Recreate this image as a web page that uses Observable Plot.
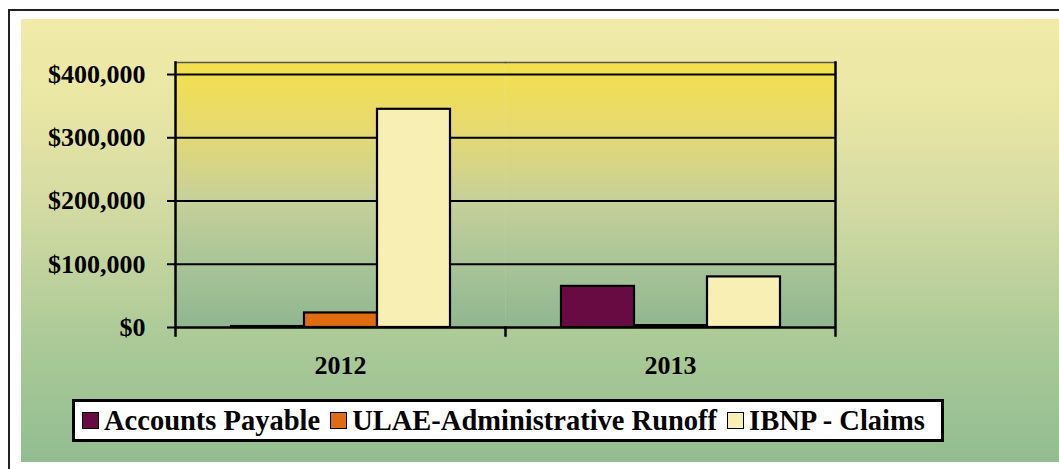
<!DOCTYPE html>
<html>
<head>
<meta charset="utf-8">
<script src="https://cdn.jsdelivr.net/npm/d3@7"></script>
<script src="https://cdn.jsdelivr.net/npm/@observablehq/plot@0.6"></script>
<style>
  html, body { margin: 0; padding: 0; background: #fff; }
  #wrap { position: relative; width: 1059px; height: 469px; overflow: hidden; font-family: "Liberation Serif", serif; }
  #outer { position: absolute; left: 8px; top: 9px; width: 1060px; height: 470px; border-left: 2px solid #222; border-top: 2px solid #222; box-sizing: border-box; }
  #bg { position: absolute; left: 21px; top: 19px; width: 1038px; height: 443px;
        background: linear-gradient(to bottom, #f1eaa8 0%, #e9e6a4 20%, #d0d9a2 45%, #aecb98 70%, #92bd91 100%); }
  #plot { position: absolute; left: 0; top: 0; }
  #legend { position: absolute; left: 72px; top: 399px; width: 872px; height: 43px; box-sizing: border-box;
            border: 3px solid #000; background: #fff; display: flex; align-items: center; padding-left: 7px;
            font-family: "Liberation Serif", serif; font-weight: bold; font-size: 28.5px; color: #000; white-space: nowrap; }
  .item { display: flex; align-items: center; margin-right: 10px; }
  .sw { width: 15px; height: 15px; border: 1.5px solid #000; margin-right: 5px; }
</style>
</head>
<body>
<svg width="0" height="0" style="position:absolute">
  <defs>
    <linearGradient id="plotbg" x1="0" y1="0" x2="0" y2="1">
      <stop offset="0%" stop-color="#f4e04c"/>
      <stop offset="25%" stop-color="#e6da70"/>
      <stop offset="52%" stop-color="#c6d09a"/>
      <stop offset="78%" stop-color="#a7c397"/>
      <stop offset="100%" stop-color="#90b690"/>
    </linearGradient>
  </defs>
</svg>
<div id="wrap">
  <div id="outer"></div>
  <div id="bg"></div>
  <div id="plot"></div>
  <div id="legend"></div>
</div>
<script>
const years = ["2012", "2013"];
const series = ["Accounts Payable", "ULAE-Administrative Runoff", "IBNP - Claims"];
const accountsPayable = [1500, 65000];
const ulaeRunoff = [23000, 3000];
const ibnpClaims = [345000, 80000];
const yTicks = [0, 100000, 200000, 300000, 400000];
const colors = ["#680b42", "#e06c12", "#f7efb4"];

const valuesBySeries = [accountsPayable, ulaeRunoff, ibnpClaims];
const data = [];
years.forEach((yr, i) => series.forEach((s, j) => data.push({year: yr, series: s, value: valuesBySeries[j][i]})));

const fmt = d => "$" + d3.format(",")(d);

const chart = Plot.plot({
  width: 1059,
  height: 390,
  marginLeft: 175,
  marginRight: 224,
  marginTop: 62,
  marginBottom: 63,
  style: {background: "transparent", fontFamily: "Liberation Serif", fontWeight: "bold", fontSize: "26px", color: "#000", overflow: "visible"},
  fx: {domain: years, padding: 0, label: null},
  x: {domain: series, paddingInner: 0, paddingOuter: 0.73, axis: null},
  y: {domain: [0, 419000], label: null},
  color: {domain: series, range: colors},
  marks: [
    Plot.frame({fill: "url(#plotbg)", stroke: null}),
    Plot.ruleY(yTicks.slice(1), {stroke: "#000", strokeWidth: 2}),
    Plot.frame({anchor: "top", stroke: "#555", strokeWidth: 1.5}),
    Plot.barY(data, {fx: "year", x: "series", y: "value", fill: "series", stroke: "#000", strokeWidth: 2.2}),
    Plot.ruleY([0], {stroke: "#000", strokeWidth: 2.5}),
    Plot.frame({anchor: "left", fx: [years[0]], insetBottom: -8, stroke: "#000", strokeWidth: 2.5}),
    Plot.frame({anchor: "right", fx: [years[1]], insetBottom: -8, stroke: "#000", strokeWidth: 2.5}),
    Plot.frame({anchor: "right", fx: [years[0]], insetTop: 265, insetBottom: -8, stroke: "#000", strokeWidth: 2.5}),
    Plot.axisY(yTicks, {tickFormat: fmt, tickSize: 8, tickPadding: 22, strokeWidth: 2, stroke: "#000", fontSize: 26, fontWeight: "bold"}),
    Plot.axisFx({anchor: "bottom", tickSize: 0, tickPadding: 28, fontSize: 26, fontWeight: "bold", label: null})
  ]
});
document.getElementById("plot").appendChild(chart);

const color = chart.scale("color");
const legend = document.getElementById("legend");
series.forEach((s, j) => {
  const item = document.createElement("div");
  item.className = "item";
  const sw = document.createElement("span");
  sw.className = "sw";
  sw.style.background = color.range[j];
  const t = document.createElement("span");
  t.textContent = s;
  item.appendChild(sw);
  item.appendChild(t);
  legend.appendChild(item);
});
</script>
</body>
</html>
